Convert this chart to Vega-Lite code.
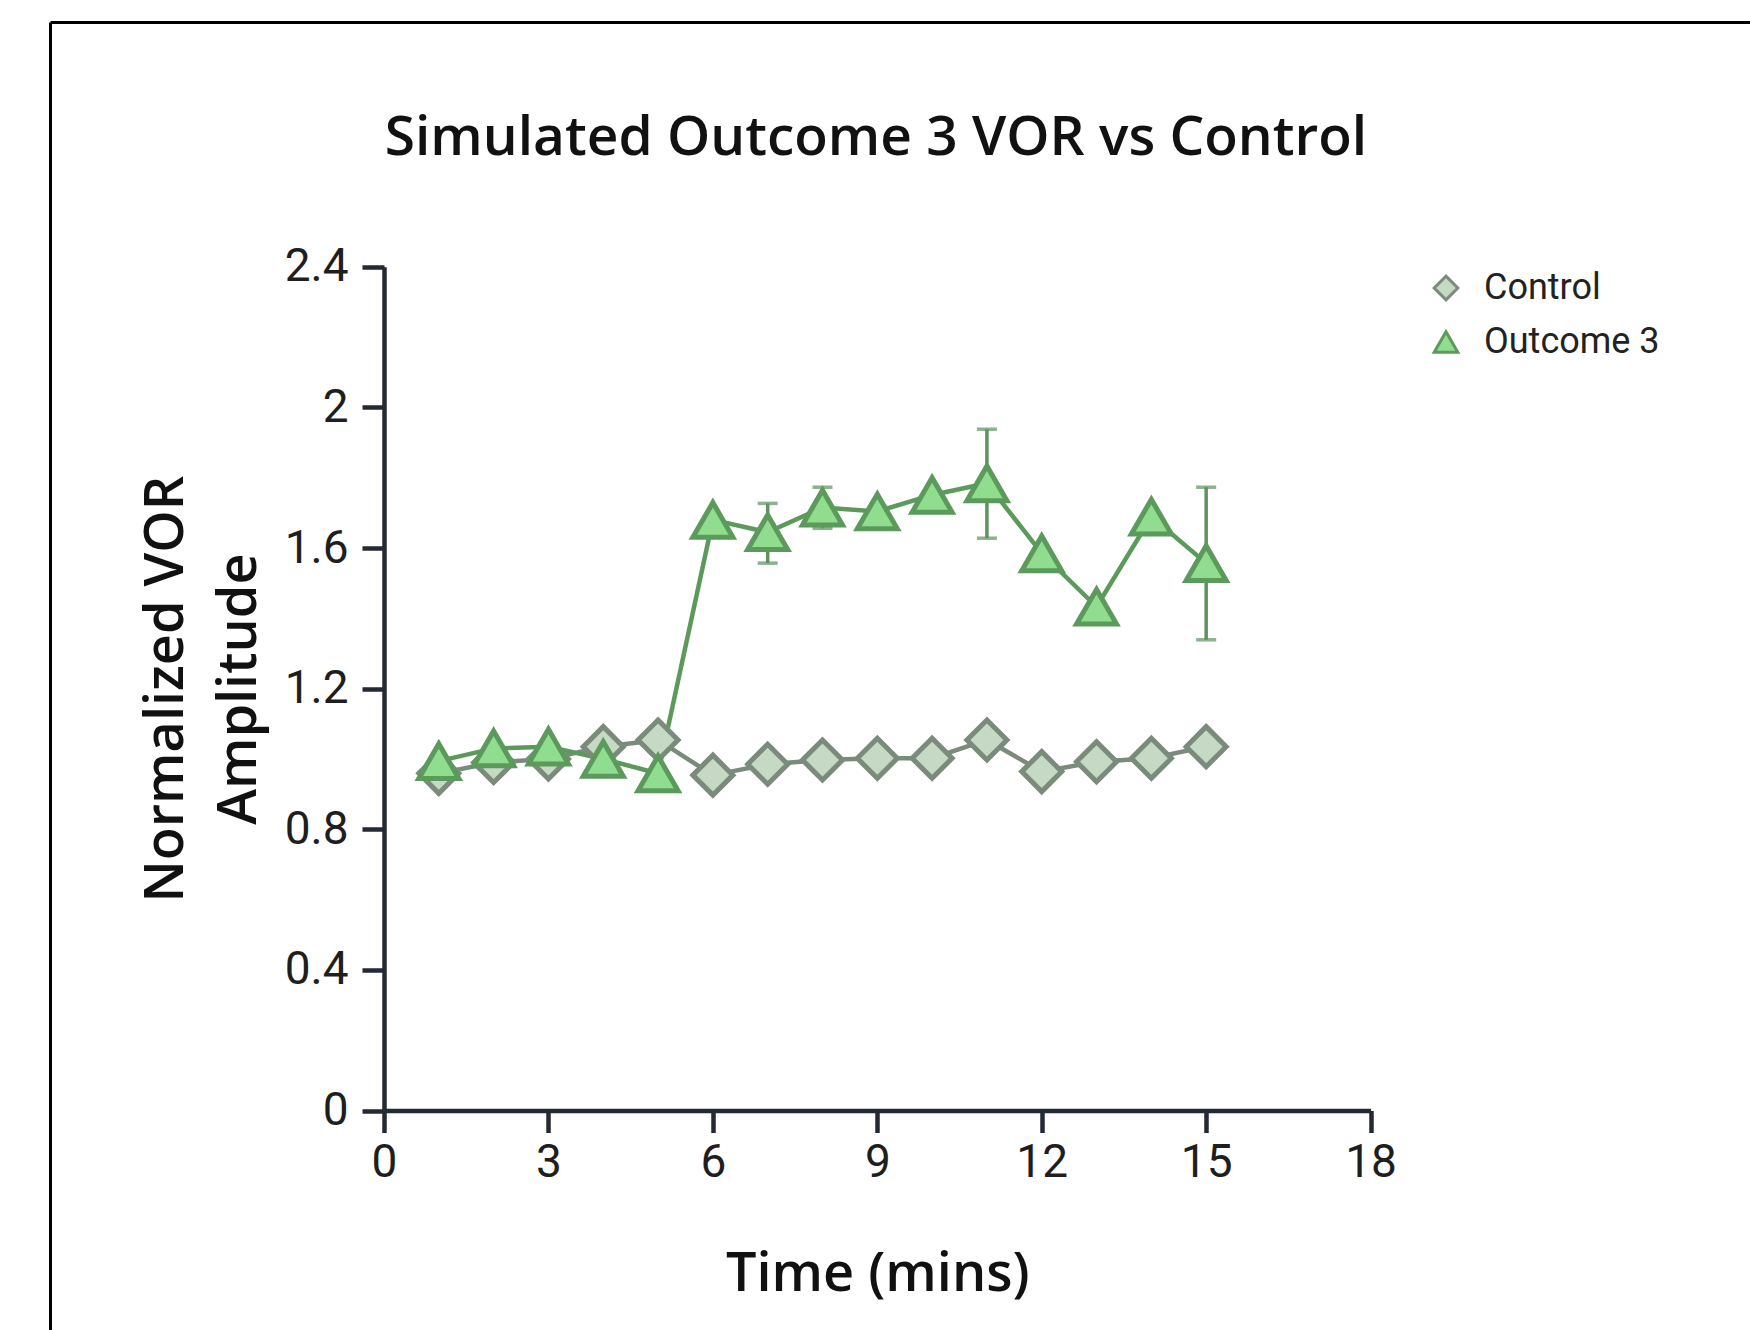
{
  "$schema": "https://vega.github.io/schema/vega-lite/v6.json",
  "width": 1700,
  "height": 1308,
  "autosize": {"type": "none"},
  "padding": {"left": 50, "top": 22, "right": 0, "bottom": 0},
  "background": "white",
  "config": {
    "view": {"stroke": null},
    "legend": {
      "orient": "none",
      "legendX": 1378,
      "legendY": 248,
      "padding": 0,
      "labelFont": "Roboto",
      "labelFontSize": 36,
      "labelColor": "#222222",
      "labelOffset": 20,
      "labelLimit": 400,
      "rowPadding": 18,
      "symbolSize": 560,
      "symbolStrokeWidth": 3
    }
  },
  "title": {
    "text": "Simulated Outcome 3 VOR vs Control",
    "font": "Open Sans",
    "fontSize": 55,
    "fontWeight": 600,
    "color": "#111111",
    "anchor": "middle",
    "frame": "group",
    "dx": -24,
    "baseline": "alphabetic",
    "offset": 0,
    "dy": 188
  },
  "data": {
    "values": [
      {"time": 1, "group": "Control", "value": 0.959, "lo": 0.959, "hi": 0.959},
      {"time": 2, "group": "Control", "value": 0.99, "lo": 0.99, "hi": 0.99},
      {"time": 3, "group": "Control", "value": 1.0, "lo": 1.0, "hi": 1.0},
      {"time": 4, "group": "Control", "value": 1.035, "lo": 1.035, "hi": 1.035},
      {"time": 5, "group": "Control", "value": 1.054, "lo": 1.054, "hi": 1.054},
      {"time": 6, "group": "Control", "value": 0.954, "lo": 0.954, "hi": 0.954},
      {"time": 7, "group": "Control", "value": 0.985, "lo": 0.985, "hi": 0.985},
      {"time": 8, "group": "Control", "value": 0.997, "lo": 0.997, "hi": 0.997},
      {"time": 9, "group": "Control", "value": 1.002, "lo": 1.002, "hi": 1.002},
      {"time": 10, "group": "Control", "value": 1.002, "lo": 1.002, "hi": 1.002},
      {"time": 11, "group": "Control", "value": 1.054, "lo": 1.054, "hi": 1.054},
      {"time": 12, "group": "Control", "value": 0.964, "lo": 0.964, "hi": 0.964},
      {"time": 13, "group": "Control", "value": 0.992, "lo": 0.992, "hi": 0.992},
      {"time": 14, "group": "Control", "value": 1.002, "lo": 1.002, "hi": 1.002},
      {"time": 15, "group": "Control", "value": 1.035, "lo": 1.035, "hi": 1.035},
      {"time": 1, "group": "Outcome 3", "value": 0.994, "lo": 0.994, "hi": 0.994},
      {"time": 2, "group": "Outcome 3", "value": 1.03, "lo": 1.03, "hi": 1.03},
      {"time": 3, "group": "Outcome 3", "value": 1.035, "lo": 1.035, "hi": 1.035},
      {"time": 4, "group": "Outcome 3", "value": 1.0, "lo": 1.0, "hi": 1.0},
      {"time": 5, "group": "Outcome 3", "value": 0.959, "lo": 0.959, "hi": 0.959},
      {"time": 6, "group": "Outcome 3", "value": 1.68, "lo": 1.68, "hi": 1.68},
      {"time": 7, "group": "Outcome 3", "value": 1.645, "lo": 1.557, "hi": 1.727},
      {"time": 8, "group": "Outcome 3", "value": 1.715, "lo": 1.656, "hi": 1.773},
      {"time": 9, "group": "Outcome 3", "value": 1.704, "lo": 1.704, "hi": 1.704},
      {"time": 10, "group": "Outcome 3", "value": 1.751, "lo": 1.751, "hi": 1.751},
      {"time": 11, "group": "Outcome 3", "value": 1.784, "lo": 1.628, "hi": 1.938},
      {"time": 12, "group": "Outcome 3", "value": 1.585, "lo": 1.585, "hi": 1.585},
      {"time": 13, "group": "Outcome 3", "value": 1.433, "lo": 1.433, "hi": 1.433},
      {"time": 14, "group": "Outcome 3", "value": 1.689, "lo": 1.689, "hi": 1.689},
      {"time": 15, "group": "Outcome 3", "value": 1.557, "lo": 1.339, "hi": 1.773}
    ]
  },
  "layer": [
    {
      "mark": {"type": "point", "opacity": 0},
      "encoding": {
        "x": {
          "datum": 0.5,
          "type": "quantitative",
          "scale": {"domain": [0, 1]},
          "axis": {"orient": "top", "ticks": false, "labels": false, "grid": false, "title": null, "domainColor": "#000000", "domainWidth": 3}
        },
        "y": {
          "datum": 0.5,
          "type": "quantitative",
          "scale": {"domain": [0, 1]},
          "axis": {"orient": "left", "ticks": false, "labels": false, "grid": false, "title": null, "domainColor": "#000000", "domainWidth": 3}
        }
      }
    },
    {
      "encoding": {
        "x": {
          "field": "time",
          "type": "quantitative",
          "scale": {"domain": [0, 18], "range": [334, 1320.6], "nice": false, "zero": false},
          "axis": {
            "orient": "bottom",
            "offset": -219.5,
            "values": [0, 3, 6, 9, 12, 15, 18],
            "grid": false,
            "title": "Time (mins)",
            "titleFont": "Open Sans",
            "titleFontSize": 54,
            "titleFontWeight": 600,
            "titleColor": "#111111",
            "titlePadding": 62,
            "labelFont": "Roboto",
            "labelFontSize": 46,
            "labelColor": "#1e1e1e",
            "labelPadding": 8,
            "labelFlush": false,
            "labelOverlap": false,
            "tickSize": 22,
            "tickWidth": 4.5,
            "tickColor": "#232a34",
            "domainColor": "#232a34",
            "domainWidth": 4.5
          }
        },
        "y": {
          "field": "value",
          "type": "quantitative",
          "scale": {"domain": [0, 2.4], "range": [1088.5, 244.8], "nice": false, "zero": false},
          "axis": {
            "orient": "left",
            "offset": -334,
            "values": [0, 0.4, 0.8, 1.2, 1.6, 2, 2.4],
            "format": "~g",
            "grid": false,
            "title": ["Normalized VOR", "Amplitude"],
            "titleFont": "Open Sans",
            "titleFontSize": 54,
            "titleFontWeight": 600,
            "titleColor": "#111111",
            "titleLineHeight": 73,
            "titlePadding": 18,
            "labelFont": "Roboto",
            "labelFontSize": 46,
            "labelColor": "#1e1e1e",
            "labelPadding": 14,
            "labelFlush": false,
            "labelOverlap": false,
            "tickSize": 22,
            "tickWidth": 4.5,
            "tickColor": "#232a34",
            "domainColor": "#232a34",
            "domainWidth": 4.5
          }
        }
      },
      "layer": [
        {
          "mark": {"type": "line", "strokeWidth": 4.5},
          "encoding": {
            "stroke": {
              "field": "group",
              "type": "nominal",
              "scale": {"domain": ["Control", "Outcome 3"], "range": ["#7b8b7b", "#5c9a5c"]},
              "legend": {"title": null}
            }
          }
        },
        {
          "transform": [{"filter": "datum.hi > datum.lo"}],
          "mark": {"type": "errorbar", "color": "#5e925e", "thickness": 3.5, "ticks": {"size": 20, "thickness": 3.5, "color": "#5e925e"}},
          "encoding": {
            "y": {"field": "lo", "type": "quantitative"},
            "y2": {"field": "hi"}
          }
        },
        {
          "mark": {"type": "point", "filled": true, "opacity": 1, "strokeWidth": 5, "size": 1600},
          "encoding": {
            "shape": {
              "field": "group",
              "type": "nominal",
              "scale": {"domain": ["Control", "Outcome 3"], "range": ["diamond", "triangle-up"]},
              "legend": {"title": null}
            },
            "fill": {
              "field": "group",
              "type": "nominal",
              "scale": {"domain": ["Control", "Outcome 3"], "range": ["#c6d9c4", "#90dd8f"]},
              "legend": {"title": null}
            },
            "stroke": {
              "field": "group",
              "type": "nominal",
              "legend": {"title": null}
            }
          }
        }
      ]
    }
  ],
  "resolve": {
    "scale": {"x": "independent", "y": "independent"},
    "axis": {"x": "independent", "y": "independent"}
  }
}
